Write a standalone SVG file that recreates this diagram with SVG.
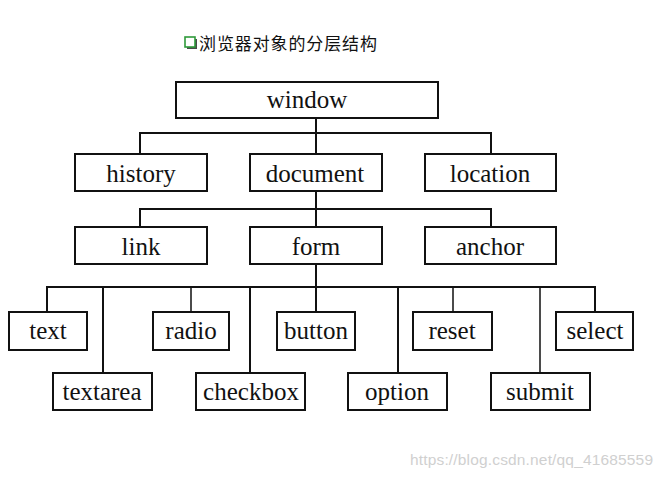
<svg xmlns="http://www.w3.org/2000/svg" width="662" height="478" viewBox="0 0 662 478">
<style>
.box{fill:#fff;stroke:#111;stroke-width:2}
.lbl{font-family:"Liberation Serif","DejaVu Serif",serif;font-size:25px;fill:#111;text-anchor:middle}
.ln{stroke:#111;stroke-width:2;fill:none}
.tn{stroke:#111;stroke-width:1.5;fill:none}
</style>
<rect width="662" height="478" fill="#fff"/>
<g id="title">
<rect x="187" y="39" width="10" height="10" fill="#4a4a4a"/>
<rect x="185" y="37" width="10" height="10" fill="#fff" stroke="#2e9a3a" stroke-width="1.6"/>
<text x="199" y="50" font-family="'Noto Sans CJK SC',sans-serif" font-size="17" fill="#111" textLength="178">浏览器对象的分层结构</text>
</g>
<g id="connectors">
<path class="ln" d="M316 118V153M140 153V133H491V153M316 191V264M140 227V209H491V227M316 264V312M47 312V287H595V312"/>
<path class="ln" d="M103 287V373M250 287V373M398 287V373"/>
<path class="tn" d="M191 287V312M453 287V312M540 287V373"/>
</g>
<g id="window"><rect class="box" x="176" y="82" width="262" height="36"/><text class="lbl" x="307" y="108">window</text></g>
<g id="history"><rect class="box" x="75" y="154" width="132" height="37"/><text class="lbl" x="141" y="182">history</text></g>
<g id="document"><rect class="box" x="250" y="154" width="132" height="37"/><text class="lbl" x="315" y="182">document</text></g>
<g id="location"><rect class="box" x="425" y="154" width="131" height="37"/><text class="lbl" x="490" y="182">location</text></g>
<g id="link"><rect class="box" x="75" y="227" width="132" height="37"/><text class="lbl" x="141" y="255">link</text></g>
<g id="form"><rect class="box" x="250" y="227" width="132" height="37"/><text class="lbl" x="316" y="255">form</text></g>
<g id="anchor"><rect class="box" x="425" y="227" width="131" height="37"/><text class="lbl" x="490" y="255">anchor</text></g>
<g id="text"><rect class="box" x="9" y="312" width="78" height="38"/><text class="lbl" x="48" y="339">text</text></g>
<g id="radio"><rect class="box" x="153" y="312" width="76" height="38"/><text class="lbl" x="191" y="339">radio</text></g>
<g id="button"><rect class="box" x="277" y="312" width="78" height="38"/><text class="lbl" x="316" y="339">button</text></g>
<g id="reset"><rect class="box" x="413" y="312" width="79" height="38"/><text class="lbl" x="452" y="339">reset</text></g>
<g id="select"><rect class="box" x="556" y="312" width="77" height="38"/><text class="lbl" x="595" y="339">select</text></g>
<g id="textarea"><rect class="box" x="53" y="373" width="99" height="37"/><text class="lbl" x="102" y="400">textarea</text></g>
<g id="checkbox"><rect class="box" x="196" y="373" width="109" height="37"/><text class="lbl" x="251" y="400">checkbox</text></g>
<g id="option"><rect class="box" x="348" y="373" width="99" height="37"/><text class="lbl" x="397" y="400">option</text></g>
<g id="submit"><rect class="box" x="491" y="373" width="99" height="37"/><text class="lbl" x="540" y="400">submit</text></g>
<text x="410" y="465" font-family="'Liberation Sans',Arial,sans-serif" font-size="15.5" fill="#d0d0d0" textLength="243">https://blog.csdn.net/qq_41685559</text>
</svg>
